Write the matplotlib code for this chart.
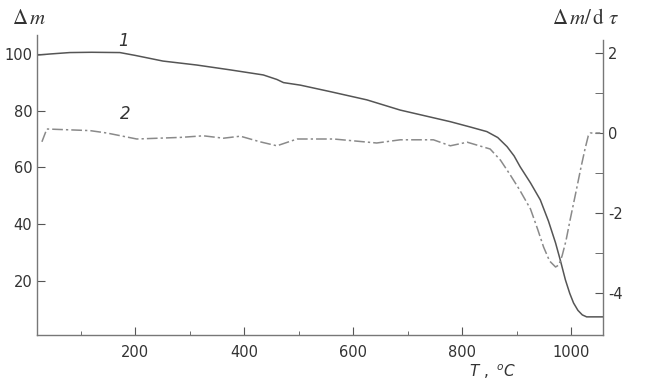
import matplotlib
matplotlib.use("Agg")
import matplotlib.pyplot as plt
import numpy as np

plt.rcParams['mathtext.fontset'] = 'stix'
plt.rcParams['axes.unicode_minus'] = False

# curve 1: mass loss (left axis)
t_mass = [20, 44, 80, 120, 172, 200, 251, 313, 374, 435, 460, 472, 503, 558,
          625, 686, 778, 815, 845, 865, 882, 895, 906, 925, 943, 958, 971,
          980, 989, 997, 1004, 1012, 1020, 1028, 1058]
mass = [99.6, 100.0, 100.5, 100.6, 100.5, 99.5, 97.5, 96.1, 94.4, 92.6, 91.0,
        89.9, 89.0, 86.7, 83.8, 80.2, 76.1, 74.2, 72.6, 70.5, 67.3, 64.0,
        60.2, 54.5, 48.5, 41.0, 33.3, 27.0, 20.3, 15.5, 12.1, 9.5, 7.9, 7.2,
        7.2]

# curve 2: DTG (right axis)
t_dtg = [29, 38, 117, 148, 203, 283, 325, 362, 393, 429, 460, 497, 564, 643,
         686, 747, 778, 809, 851, 870, 888, 905, 925, 938, 949, 960, 971, 977,
         983, 990, 998, 1008, 1017, 1025, 1031, 1035, 1053]
dtg = [-0.22, 0.10, 0.06, 0.0, -0.15, -0.11, -0.07, -0.13, -0.08, -0.22,
       -0.32, -0.15, -0.15, -0.25, -0.17, -0.17, -0.32, -0.23, -0.40, -0.68,
       -1.05, -1.42, -1.90, -2.40, -2.85, -3.20, -3.35, -3.30, -3.07, -2.70,
       -2.15, -1.50, -0.90, -0.40, -0.07, 0.0, 0.0]

fig = plt.figure(figsize=(6.5, 3.91), dpi=100)
ax = fig.add_axes([37/650, 1-335/391, (603-37)/650, (335-35)/391])
ax2 = ax.twinx()

ax.plot(t_mass, mass, color='#555555', lw=1.1)
ax2.plot(t_dtg, dtg, color='#8a8a8a', lw=1.1, linestyle='-.', dashes=(7, 2, 1.5, 2))

ax.set_xlim(20, 1058)
ax.set_ylim(0.8, 106.7)
ax2.set_ylim(-5.05, 2.45)

ax.set_xticks([200, 400, 600, 800, 1000])
ax.set_xticks([100, 300, 500, 700, 900], minor=True)
ax.set_yticks([20, 40, 60, 80, 100])
ax2.set_yticks([-4, -2, 0, 2])
ax2.set_yticks([-3, -1, 1], minor=True)

for a in (ax, ax2):
    a.spines['top'].set_visible(False)
    for s in a.spines.values():
        s.set_color('#777777')
        s.set_linewidth(1.0)
ax.spines['right'].set_visible(False)
ax2.spines['left'].set_visible(False)
ax2.spines['bottom'].set_visible(False)
ax2.spines['right'].set_bounds(-5.05, 2.33)

ax.tick_params(axis='both', which='both', direction='in', colors='#555555',
               labelcolor='#333333', labelsize=10.5)
ax.tick_params(axis='x', which='major', length=6, pad=7)
ax.tick_params(axis='x', which='minor', length=3)
ax.tick_params(axis='y', which='major', length=6)
ax2.tick_params(axis='y', which='both', direction='in', colors='#555555',
                labelcolor='#333333', labelsize=10.5, length=6)

fig.text(12/650, 1-18/391, r'$\Delta\, m$', fontsize=15, va='center', ha='left', color='#333333')
fig.text(552/650, 1-18/391, r'$\Delta\, m/\,\mathrm{d}\ \tau$', fontsize=15, va='center', ha='left', color='#333333')
fig.text(492/650, 1-372/391, r'$T\ ,\ ^{o}C$', fontsize=11, va='center', ha='center',
         color='#333333', math_fontfamily='dejavusans')

ax.text(178, 101.5, '1', fontsize=12, style='italic', color='#333333', ha='center', va='bottom')
ax.text(182, 75.5, '2', fontsize=12, style='italic', color='#333333', ha='center', va='bottom')

fig.savefig('out.png', dpi=100)
